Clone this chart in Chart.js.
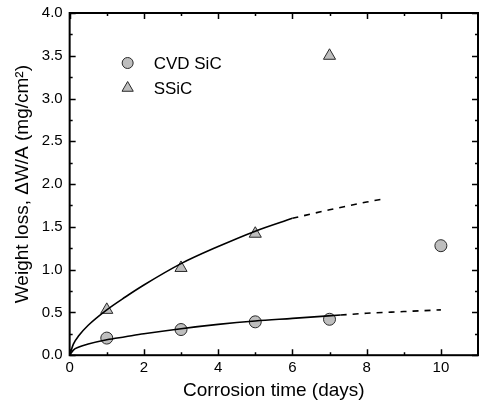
<!DOCTYPE html>
<html>
<head>
<meta charset="utf-8">
<script src="https://cdn.jsdelivr.net/npm/chart.js@4"></script>
<style>
  html, body { margin: 0; padding: 0; background: #fff; }
  #wrap { width: 479px; height: 406px; }
</style>
</head>
<body>
<div id="wrap"><canvas id="myChart"></canvas></div>
<script>
  // measured points
  const cvdDays = [1, 3, 5, 7, 10];
  const cvdLoss = [0.20, 0.30, 0.39, 0.42, 1.28];
  const ssicDays = [1, 3, 5, 7];
  const ssicLoss = [0.53, 1.02, 1.42, 3.50];

  // fitted curves (solid part, then dashed extension)
  const cvdFitX = [0, 0.1, 0.25, 0.5, 1, 1.5, 2, 3, 4, 5, 6, 7.3];
  const cvdFitY = [0, 0.06, 0.095, 0.13, 0.18, 0.215, 0.25, 0.31, 0.36, 0.40, 0.43, 0.47];
  const cvdExtX = [7.3, 8, 9, 10];
  const cvdExtY = [0.47, 0.49, 0.51, 0.53];

  const ssicFitX = [0, 0.1, 0.25, 0.5, 1, 1.5, 2, 3, 4, 5, 6];
  const ssicFitY = [0, 0.13, 0.23, 0.35, 0.53, 0.68, 0.82, 1.07, 1.27, 1.45, 1.60];
  const ssicExtX = [6, 7, 8, 8.5];
  const ssicExtY = [1.60, 1.70, 1.79, 1.83];

  const xTickLabels = ['0', '', '2', '', '4', '', '6', '', '8', '', '10', ''];

  const pts = (xs, ys) => xs.map((x, i) => ({ x: x, y: ys[i] }));
  const FONT = "'Liberation Sans', Arial, sans-serif";
  const markFill = 'rgb(190, 190, 190)';
  const markEdge = 'rgb(40, 40, 40)';

  const curve = (xs, ys, dash) => ({
    type: 'line',
    data: pts(xs, ys),
    borderColor: '#000',
    borderWidth: 1.6,
    borderDash: dash,
    pointRadius: 0,
    cubicInterpolationMode: 'monotone',
    fill: false
  });

  // invisible tick marks just to space the labels off the axis
  const hiddenGrid = (len) => ({
    display: true,
    drawOnChartArea: false,
    drawTicks: true,
    tickLength: len,
    color: 'rgba(0,0,0,0)'
  });

  // frame, inward ticks on all four sides, and the inset legend
  const framePlugin = {
    id: 'frame',
    afterDraw(chart) {
      const c = chart.ctx, a = chart.chartArea;
      const xs = chart.scales.x, ys = chart.scales.y;
      c.save();
      c.strokeStyle = '#000';
      c.lineWidth = 1.5;
      for (let v = 0; v <= 11; v++) {
        const px = Math.round(xs.getPixelForValue(v)) + 0.5;
        const len = v % 2 === 0 ? 6 : 3;
        c.beginPath();
        c.moveTo(px, a.bottom); c.lineTo(px, a.bottom - len);
        c.moveTo(px, a.top); c.lineTo(px, a.top + len);
        c.stroke();
      }
      for (let k = 0; k <= 16; k++) {
        const v = k * 0.25;
        const py = Math.round(ys.getPixelForValue(v)) + 0.5;
        const len = k % 2 === 0 ? 6 : 3;
        c.beginPath();
        c.moveTo(a.left, py); c.lineTo(a.left + len, py);
        c.moveTo(a.right, py); c.lineTo(a.right - len, py);
        c.stroke();
      }
      c.lineWidth = 2;
      c.strokeRect(a.left, a.top, a.right - a.left, a.bottom - a.top);

      // legend
      const items = [
        { style: 'circle', r: 5.5, text: 'CVD SiC' },
        { style: 'triangle', r: 6.5, text: 'SSiC' }
      ];
      c.font = '17px ' + FONT;
      c.textBaseline = 'middle';
      items.forEach((it, i) => {
        const y = a.top + 50 + i * 25;
        c.fillStyle = markFill;
        c.strokeStyle = markEdge;
        c.lineWidth = 1;
        Chart.helpers.drawPoint(c, { pointStyle: it.style, radius: it.r, rotation: 0, borderWidth: 1 }, a.left + 58, y);
        c.fillStyle = '#000';
        c.fillText(it.text, a.left + 84, y + 1);
      });
      c.restore();
    }
  };

  const data = {
    datasets: [
      curve(cvdFitX, cvdFitY, []),
      curve(cvdExtX, cvdExtY, [6, 6]),
      curve(ssicFitX, ssicFitY, []),
      curve(ssicExtX, ssicExtY, [6, 6]),
      {
        type: 'scatter',
        label: 'CVD SiC',
        data: pts(cvdDays, cvdLoss),
        pointStyle: 'circle',
        pointRadius: 6,
        backgroundColor: markFill,
        borderColor: markEdge,
        borderWidth: 1
      },
      {
        type: 'scatter',
        label: 'SSiC',
        data: pts(ssicDays, ssicLoss),
        pointStyle: 'triangle',
        pointRadius: 7,
        backgroundColor: markFill,
        borderColor: markEdge,
        borderWidth: 1
      }
    ]
  };

  const config = {
    type: 'scatter',
    data: data,
    options: {
      responsive: false,
      animation: false,
      layout: { autoPadding: false, padding: { top: 13, right: 1, left: 11, bottom: 4 } },
      plugins: { legend: { display: false }, tooltip: { enabled: false } },
      scales: {
        x: {
          type: 'linear',
          min: 0, max: 11,
          grid: hiddenGrid(4),
          border: { display: false },
          ticks: {
            stepSize: 1,
            autoSkip: false,
            maxRotation: 0,
            padding: 0,
            color: '#000',
            font: { family: FONT, size: 15 },
            callback: (v) => xTickLabels[v]
          },
          title: {
            display: true,
            text: 'Corrosion time (days)',
            color: '#000',
            font: { family: FONT, size: 19 },
            padding: { top: 2, bottom: 0 }
          }
        },
        y: {
          min: 0, max: 4,
          grid: hiddenGrid(7),
          border: { display: false },
          ticks: {
            stepSize: 0.5,
            padding: 0,
            color: '#000',
            font: { family: FONT, size: 15 },
            callback: (v) => v.toFixed(1)
          },
          title: {
            display: true,
            text: 'Weight loss, \u0394W/A (mg/cm\u00B2)',
            color: '#000',
            font: { family: FONT, size: 19 },
            padding: { top: 0, bottom: 8 }
          }
        }
      }
    },
    plugins: [framePlugin]
  };

  const canvas = document.getElementById('myChart');
  canvas.width = 479;
  canvas.height = 406;
  const myChart = new Chart(canvas, config);
</script>
</body>
</html>
